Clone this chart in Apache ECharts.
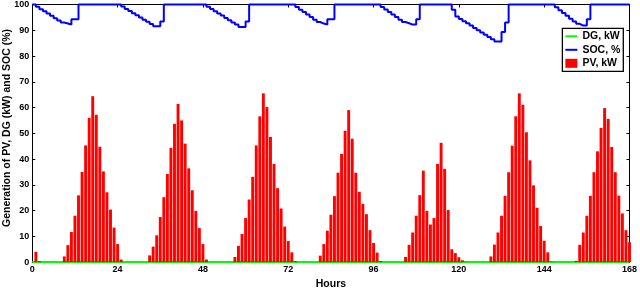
<!DOCTYPE html>
<html>
<head>
<meta charset="utf-8">
<script src="https://cdn.jsdelivr.net/npm/echarts@6/dist/echarts.min.js"></script>
<style>html,body{margin:0;padding:0;background:#fff}#c{width:640px;height:295px}</style>
</head>
<body>
<div id="c"></div>
<script>
// PV generation (kW), hours 1..168
var pvHours = [];
for (var h = 1; h <= 168; h++) pvHours.push(h);
var pv = [
  4, 0.4, 0, 0, 0, 0, 0, 0,
  2.2, 6.6, 11.7, 18, 25.9, 35, 45.3, 56, 64.4, 57.2, 44.8, 35.2, 27.1, 20.4, 13.4, 7, 1,
  0, 0, 0, 0, 0, 0, 0,
  2.6, 6, 10.4, 17.5, 25.2, 34.2, 44.3, 53.7, 61.4, 55, 46, 36.4, 27.9, 19.9, 13.2, 7, 1,
  0, 0, 0, 0, 0, 0, 0,
  2, 6.3, 10.9, 17.1, 24.3, 33.1, 45.3, 56.6, 65.5, 60.2, 48.6, 38.1, 28.7, 20.8, 13.8, 8.2, 3.8, 0.4,
  0, 0, 0, 0, 0, 0,
  2.5, 7, 12.2, 18.4, 25.6, 34.7, 42, 51, 59, 47.9, 34.7, 27.3, 22.6, 18.6, 12.4, 7.4, 3.7, 0.4,
  0, 0, 0, 0, 0, 0,
  2, 6.7, 11.5, 18, 26, 35.5, 19.9, 14.6, 17.1, 38.1, 46.3, 36.2, 20.2, 5, 3.5, 1.9, 0.7, 0.1,
  0, 0, 0, 0, 0, 0,
  2.2, 6.8, 11.5, 18, 25.7, 34.9, 45.2, 56.6, 65.5, 61.1, 50.4, 39.5, 29.8, 21.1, 14, 8.3, 3.8, 0.2,
  0, 0, 0, 0, 0, 0,
  0.5, 6.7, 11.5, 18, 25.7, 34.9, 43, 52.1, 59.8, 55.6, 44.7, 34.9, 25.8, 18.9, 12.4, 7.7
];
// SOC (%) and DG (kW), hours 0..168
var lineHours = [];
for (var k = 0; k <= 168; k++) lineHours.push(k);
var soc = [
  100, 99.1, 98.2, 97.4, 96.5, 95.6, 94.7, 93.8, 93.0, 92.6, 92.2, 94.3, 94.3,
  100, 100, 100, 100, 100, 100, 100, 100, 100, 100, 100, 100,
  99.2, 98.3, 97.5, 96.6, 95.8, 95.0, 94.1, 93.3, 92.4, 91.6, 91.6, 93.4,
  100, 100, 100, 100, 100, 100, 100, 100, 100, 100, 100, 100,
  99.1, 98.3, 97.4, 96.5, 95.7, 94.8, 93.9, 93.0, 92.2, 91.3, 91.3, 93.4,
  100, 100, 100, 100, 100, 100, 100, 100, 100, 100, 100, 100, 100,
  99.0, 98.0, 97.1, 96.1, 95.1, 94.1, 93.2, 92.6, 92.2, 94.3, 94.3,
  100, 100, 100, 100, 100, 100, 100, 100, 100, 100, 100, 100, 100,
  99.0, 98.1, 97.1, 96.1, 95.1, 94.1, 93.2, 92.7, 92.2, 92.2, 94.3,
  100, 100, 100, 100, 100, 100, 100, 100, 100,
  98.0, 95.3, 94.4, 93.5, 92.7, 91.8, 90.9, 90.0, 89.1, 88.3, 87.4, 86.5, 85.6, 85.6, 89.3, 93.0,
  100, 100, 100, 100, 100, 100, 100, 100, 100, 100, 100, 100, 100,
  98.9, 97.8, 96.7, 95.6, 94.5, 93.4, 92.5, 91.8, 91.8, 94.3,
  100, 100, 100, 100, 100, 100, 100, 100, 100, 100, 100, 100
];
var dg = [
  0,0,0,0,0,0,0,0,0,0,0,0,0,0,0,0,0,0,0,0,0,0,0,0,0,0,0,0,0,0,0,0,0,0,0,0,0,0,0,0,0,0,
  0,0,0,0,0,0,0,0,0,0,0,0,0,0,0,0,0,0,0,0,0,0,0,0,0,0,0,0,0,0,0,0,0,0,0,0,0,0,0,0,0,0,
  0,0,0,0,0,0,0,0,0,0,0,0,0,0,0,0,0,0,0,0,0,0,0,0,0,0,0,0,0,0,0,0,0,0,0,0,0,0,0,0,0,0,
  0,0,0,0,0,0,0,0,0,0,0,0,0,0,0,0,0,0,0,0,0,0,0,0,0,0,0,0,0,0,0,0,0,0,0,0,0,0,0,0,0,0,0
];
var xTicks = [0, 24, 48, 72, 96, 120, 144, 168];
var yTicks = [0, 10, 20, 30, 40, 50, 60, 70, 80, 90, 100];

var FONT = 'Liberation Sans, Arial, Helvetica, sans-serif';
function pairs(xs, ys) { return xs.map(function (x, i) { return [x, ys[i]]; }); }

var axisLineStyle = { show: true, onZero: false, lineStyle: { color: '#000', width: 1 } };
var tick = { show: true, inside: true, length: 3, lineStyle: { color: '#000', width: 1 } };

var chart = echarts.init(document.getElementById('c'), null, { renderer: 'canvas' });
chart.setOption({
  animation: false,
  backgroundColor: '#fff',
  grid: { left: 32.3, right: 8.7, top: 4, bottom: 22.3, containLabel: false },
  xAxis: [
    { type: 'value', position: 'bottom', min: xTicks[0], max: xTicks[xTicks.length - 1], interval: 24,
      axisLine: axisLineStyle, axisTick: tick, splitLine: { show: false },
      axisLabel: { color: '#000', fontFamily: FONT, fontWeight: 'bold', fontSize: 9, margin: 3 },
      name: 'Hours', nameLocation: 'middle', nameGap: 12,
      nameTextStyle: { color: '#000', fontFamily: FONT, fontWeight: 'bold', fontSize: 10.5 } },
    { type: 'value', position: 'top', min: xTicks[0], max: xTicks[xTicks.length - 1], interval: 24,
      axisLine: axisLineStyle, axisTick: tick, splitLine: { show: false }, axisLabel: { show: false } }
  ],
  yAxis: [
    { type: 'value', position: 'left', min: yTicks[0], max: yTicks[yTicks.length - 1], interval: 10,
      axisLine: axisLineStyle, axisTick: tick, splitLine: { show: false },
      axisLabel: { color: '#000', fontFamily: FONT, fontWeight: 'bold', fontSize: 9, margin: 3 } },
    { type: 'value', position: 'right', min: yTicks[0], max: yTicks[yTicks.length - 1], interval: 10,
      axisLine: axisLineStyle, axisTick: tick, splitLine: { show: false }, axisLabel: { show: false } }
  ],
  legend: {
    orient: 'vertical', right: 16.7, top: 28.3,
    backgroundColor: '#fff', borderColor: '#000', borderWidth: 1.3,
    padding: [2, 3, 2, 2], itemGap: 1.5, itemWidth: 12, itemHeight: 9,
    textStyle: { color: '#000', fontFamily: FONT, fontWeight: 'bold', fontSize: 10.5, lineHeight: 12 },
    data: [
      { name: 'DG, kW', itemStyle: { opacity: 0 } },
      { name: 'SOC, %', itemStyle: { opacity: 0 } },
      { name: 'PV, kW', icon: 'rect' }
    ]
  },
  graphic: [{
    type: 'text', x: 7, y: 128, rotation: Math.PI / 2,
    style: { text: 'Generation of PV, DG (kW) and SOC (%)', fill: '#000',
      fontFamily: FONT, fontWeight: 'bold', fontSize: 10.5, align: 'center', verticalAlign: 'middle' }
  }],
  series: [
    { name: 'DG, kW', type: 'line', data: pairs(lineHours, dg), symbol: 'none', z: 2,
      lineStyle: { color: '#00ff00', width: 2 }, itemStyle: { color: '#00ff00' } },
    { name: 'SOC, %', type: 'line', step: 'end', data: pairs(lineHours, soc), symbol: 'none', z: 4, clip: false,
      lineStyle: { color: '#0000ff', width: 2 }, itemStyle: { color: '#0000ff' } },
    { name: 'PV, kW', type: 'bar', data: pairs(pvHours, pv), barWidth: '82%', z: 3,
      itemStyle: { color: '#ff0000' } }
  ]
});
</script>
</body>
</html>
